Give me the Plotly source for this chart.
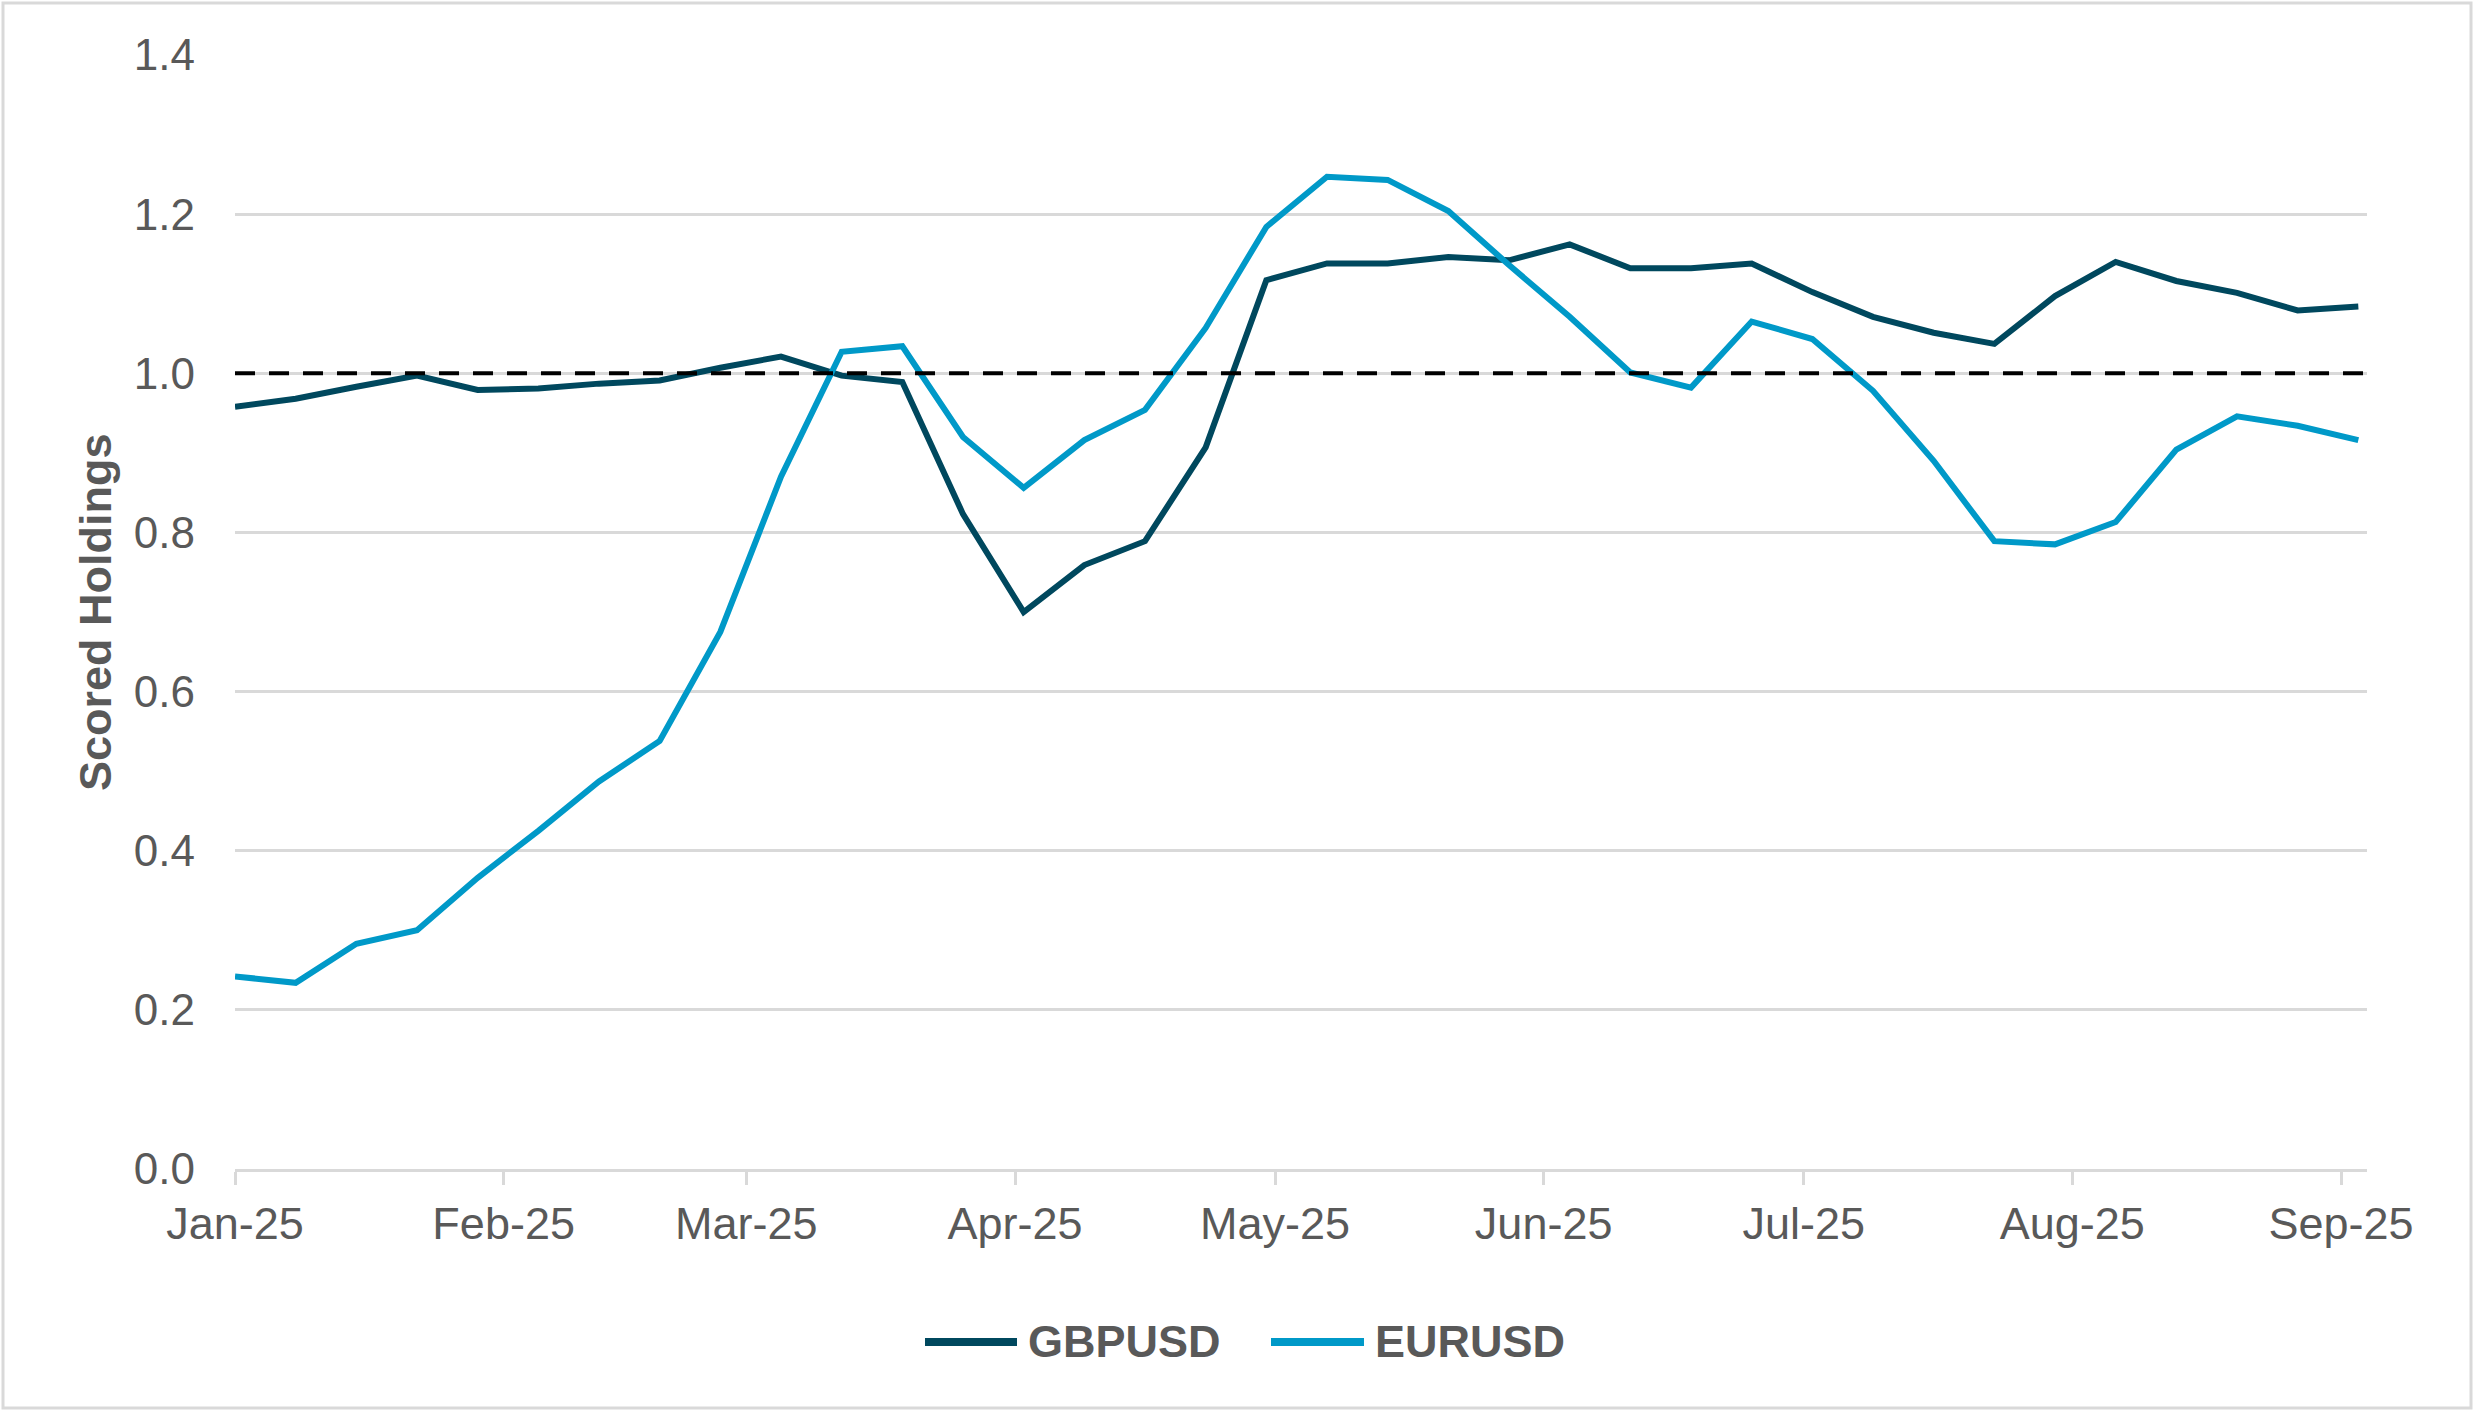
import plotly.graph_objects as go

dates = [
    "2025-01-01", "2025-01-08", "2025-01-15", "2025-01-22", "2025-01-29",
    "2025-02-05", "2025-02-12", "2025-02-19", "2025-02-26",
    "2025-03-05", "2025-03-12", "2025-03-19", "2025-03-26",
    "2025-04-02", "2025-04-09", "2025-04-16", "2025-04-23", "2025-04-30",
    "2025-05-07", "2025-05-14", "2025-05-21", "2025-05-28",
    "2025-06-04", "2025-06-11", "2025-06-18", "2025-06-25",
    "2025-07-02", "2025-07-09", "2025-07-16", "2025-07-23", "2025-07-30",
    "2025-08-06", "2025-08-13", "2025-08-20", "2025-08-27",
    "2025-09-03",
]

gbpusd = [
    0.958, 0.968, 0.983, 0.997, 0.979, 0.981, 0.987, 0.991, 1.007,
    1.021, 0.997, 0.989, 0.823, 0.700, 0.759, 0.789, 0.907, 1.117,
    1.138, 1.138, 1.146, 1.142, 1.162, 1.132, 1.132, 1.138, 1.102,
    1.071, 1.051, 1.037, 1.097, 1.140, 1.116, 1.101, 1.079, 1.084,
]

eurusd = [
    0.242, 0.234, 0.283, 0.300, 0.366, 0.425, 0.487, 0.538, 0.675,
    0.870, 1.027, 1.034, 0.920, 0.856, 0.916, 0.954, 1.057, 1.184,
    1.247, 1.243, 1.204, 1.136, 1.071, 1.001, 0.982, 1.065, 1.043,
    0.978, 0.890, 0.789, 0.785, 0.813, 0.904, 0.946, 0.934, 0.916,
]

series_names = ["GBPUSD", "EURUSD"]
series_colors = ["#00485E", "#0099C8"]
reference_level = 1.0
y_ticks = [0.0, 0.2, 0.4, 0.6, 0.8, 1.0, 1.2, 1.4]

W, H = 2474, 1411
L, R, T, B = 235, 107, 55, 242
pw, ph = W - L - R, H - T - B

grey = "#595959"
grid = "#D9D9D9"
font_family = "Liberation Sans, Arial, sans-serif"


def px_x(p):
    return (p - L) / pw


def px_y(p):
    return (H - B - p) / ph


fig = go.Figure()
for name, vals, col in zip(series_names, [gbpusd, eurusd], series_colors):
    fig.add_trace(go.Scatter(
        x=dates, y=vals, name=name, mode="lines",
        line=dict(color=col, width=6), showlegend=False,
    ))

fig.add_hline(y=reference_level, line=dict(color="black", width=4, dash="20px,14px"), layer="above")

# outer chart border
fig.add_shape(type="rect", xref="paper", yref="paper",
              x0=px_x(3), x1=px_x(W - 3), y0=px_y(H - 3), y1=px_y(3),
              line=dict(color=grid, width=3), layer="below")

# legend (drawn as layout items)
legend_items = [(925, 1017, 1026), (1271, 1364, 1373)]
for (lx0, lx1, tx), name, col in zip(legend_items, series_names, series_colors):
    fig.add_shape(type="line", xref="paper", yref="paper",
                  x0=px_x(lx0), x1=px_x(lx1), y0=px_y(1342), y1=px_y(1342),
                  line=dict(color=col, width=8))
    fig.add_annotation(text="<b>%s</b>" % name, xref="paper", yref="paper",
                       x=px_x(tx), y=px_y(1342), xanchor="left", yanchor="middle",
                       showarrow=False, font=dict(size=45, color=grey, family=font_family))

fig.add_annotation(
    text="<b>Scored Holdings</b>", textangle=-90,
    xref="paper", yref="paper", x=px_x(95), y=0.5,
    showarrow=False, font=dict(size=45, color=grey, family=font_family),
    xanchor="center", yanchor="middle",
)

fig.update_layout(
    width=W, height=H,
    margin=dict(l=L, r=R, t=T, b=B, autoexpand=False),
    paper_bgcolor="white", plot_bgcolor="white",
    font=dict(family=font_family, size=44, color=grey),
    showlegend=False,
    xaxis=dict(
        type="date",
        range=["2025-01-01", "2025-09-04"],
        tick0="2025-01-01", dtick="M1", tickformat="%b-%y",
        showgrid=False, showline=True, linecolor=grid, linewidth=3,
        ticks="outside", ticklen=13, tickwidth=2.5, tickcolor=grid,
        tickfont=dict(size=45, color=grey),
        zeroline=False,
    ),
    yaxis=dict(
        range=[0, 1.4], tickvals=y_ticks, tickformat=".1f",
        showgrid=True, gridcolor=grid, gridwidth=2.5,
        zeroline=False, showline=False, ticks="",
        tickfont=dict(size=44, color=grey),
        ticklabelstandoff=39,
    ),
)

fig.write_html("out.html", config={"displayModeBar": False},
               post_script="document.body.style.margin='0';")
